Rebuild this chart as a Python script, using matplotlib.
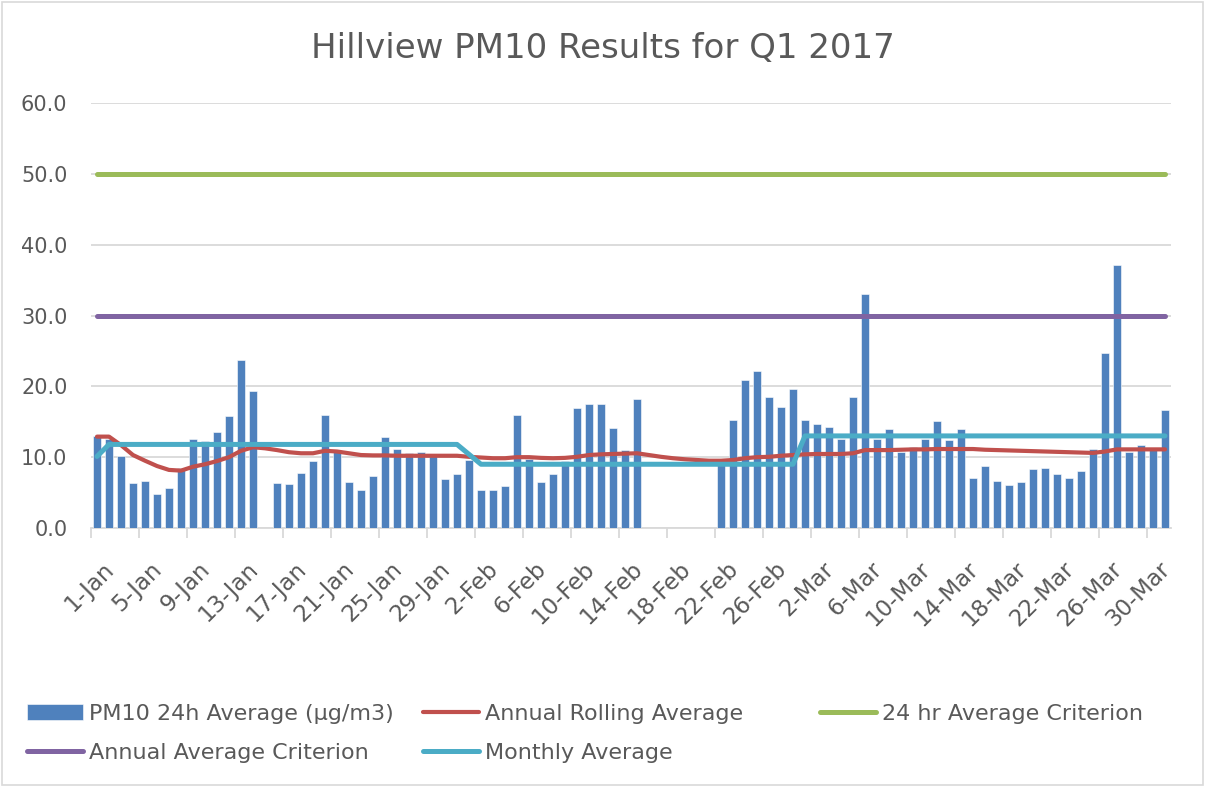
import matplotlib as mpl
mpl.use('Agg')
import matplotlib.pyplot as plt
import numpy as np
import pandas as pd

nan = np.nan

# daily PM10 24h averages, 1-Jan .. 31-Mar 2017 (nan = no data)
pm10_jan = [13.0, 12.5, 10.1, 6.3, 6.6, 4.8, 5.6, 8.5, 12.5, 12.3,
            13.6, 15.8, 23.7, 19.4, nan, 6.3, 6.2, 7.7, 9.5, 15.9,
            11.0, 6.5, 5.3, 7.4, 12.9, 11.2, 10.6, 10.8, 10.5, 6.9, 7.6]
pm10_feb = [9.6, 5.4, 5.4, 6.0, 15.9, 9.8, 6.5, 7.6, 9.5, 16.9,
            17.5, 17.5, 14.1, 11.0, 18.2, nan, nan, nan, nan, nan,
            nan, 9.5, 15.2, 20.9, 22.1, 18.5, 17.1, 19.6]
pm10_mar = [15.3, 14.7, 14.3, 12.5, 18.5, 33.1, 12.5, 14.0, 10.8, 11.5,
            12.5, 15.1, 12.4, 14.0, 7.1, 8.7, 6.7, 6.1, 6.5, 8.3,
            8.5, 7.6, 7.0, 8.0, 11.1, 24.7, 37.1, 10.7, 11.7, 11.0, 16.7]

rolling_jan = [12.9, 12.9, 11.7, 10.3, 9.5, 8.75, 8.2, 8.1, 8.65, 9.0,
               9.45, 10.0, 10.9, 11.4, 11.25, 11.0, 10.7, 10.55, 10.55, 10.9,
               10.8, 10.55, 10.3, 10.25, 10.25, 10.2, 10.2, 10.2, 10.2, 10.2, 10.2]
rolling_feb = [10.05, 9.95, 9.85, 9.85, 10.0, 10.0, 9.9, 9.85, 9.9, 10.05,
               10.3, 10.4, 10.45, 10.5, 10.55, 10.3, 10.05, 9.85, 9.7, 9.6,
               9.5, 9.5, 9.6, 9.85, 10.0, 10.05, 10.2, 10.3]
rolling_mar = [10.4, 10.45, 10.45, 10.45, 10.55, 11.0, 11.0, 11.0, 11.05, 11.1,
               11.1, 11.15, 11.15, 11.15, 11.15, 11.05, 11.0, 10.95, 10.9, 10.85,
               10.8, 10.75, 10.7, 10.65, 10.6, 10.8, 11.1, 11.1, 11.1, 11.1, 11.1]

monthly_jan = [10.1] + [11.8] * 30
monthly_feb = [10.4] + [9.0] * 27
monthly_mar = [13.0] * 31

crit_24h = 50.0
crit_annual = 30.0

pm10 = pm10_jan + pm10_feb + pm10_mar
rolling = rolling_jan + rolling_feb + rolling_mar
monthly = monthly_jan + monthly_feb + monthly_mar
days = pd.date_range('2017-01-01', '2017-03-31', freq='D')
day_labels = ['%d-%s' % (d.day, d.strftime('%b')) for d in days]

grey = '#595959'
plt.rcParams['font.family'] = ['DejaVu Sans']

fig = plt.figure(figsize=(12.05, 7.87), dpi=100)
ax = fig.add_axes([91 / 1205, 1 - 528 / 787, 1080 / 1205, 425 / 787])

x = np.arange(len(days))
bars = ax.bar(x, pm10, width=0.69, color='#4F81BD', edgecolor='white',
              linewidth=0.4, zorder=2, label='PM10 24h Average (µg/m3)')
l_roll, = ax.plot(x, rolling, color='#C0504D', lw=3.0, zorder=3,
                  solid_capstyle='round', solid_joinstyle='round', label='Annual Rolling Average')
l_24, = ax.plot(x, [crit_24h] * len(x), color='#9BBB59', lw=3.6, zorder=3,
                solid_capstyle='round', label='24 hr Average Criterion')
l_ann, = ax.plot(x, [crit_annual] * len(x), color='#8064A2', lw=3.6, zorder=3,
                 solid_capstyle='round', label='Annual Average Criterion')
l_mon, = ax.plot(x, monthly, color='#4BACC6', lw=3.6, zorder=4,
                 solid_capstyle='round', solid_joinstyle='round', label='Monthly Average')

ax.set_xlim(-0.5, len(x) - 0.5)
ax.set_ylim(0, 60)
ax.set_yticks(np.arange(0, 61, 10))
ax.set_yticklabels(['%.1f' % v for v in np.arange(0, 61, 10)])
ax.grid(axis='y', color='#D9D9D9', lw=1.3, zorder=0)
ax.set_axisbelow(True)

# labels at every 4th day, tick marks at category boundaries
ax.set_xticks(x[::4] + 0.45)
ax.set_xticklabels(day_labels[::4], rotation=45, ha='right', rotation_mode='anchor')
ax.set_xticks(x[::4] - 0.5, minor=True)
ax.tick_params(axis='x', which='major', length=0, pad=21, labelsize=16.5, labelcolor=grey)
ax.tick_params(axis='x', which='minor', length=7, width=1.3, color='#D9D9D9')
ax.tick_params(axis='y', length=0, pad=17, labelsize=15, labelcolor=grey)

for s in ['top', 'right', 'left']:
    ax.spines[s].set_visible(False)
ax.spines['bottom'].set_color('#D9D9D9')
ax.spines['bottom'].set_linewidth(1.3)
ax.spines['bottom'].set_zorder(1)

fig.text(0.5, 1 - 48 / 787, 'Hillview PM10 Results for Q1 2017', ha='center', va='center',
         fontsize=24.5, color=grey)

# legend laid out as three fixed columns, like the original
leg_cols = [([bars, l_ann], 27), ([l_roll, l_mon], 423), ([l_24], 820)]
for handles, xpos in leg_cols:
    fig.legend(handles, [h.get_label() for h in handles],
               loc='upper left', bbox_to_anchor=(xpos / 1205, 1 - 704 / 787),
               ncol=1, frameon=False, fontsize=16, labelcolor=grey,
               handlelength=2.5, handleheight=0.75, handletextpad=0.3,
               labelspacing=0.85, borderaxespad=0, borderpad=0)

# chart border
fig.patches.append(plt.Rectangle((0.002, 0.002), 0.996, 0.996, transform=fig.transFigure,
                                 fill=False, edgecolor='#D9D9D9', lw=1.2))

fig.savefig('out.png', dpi=100)
